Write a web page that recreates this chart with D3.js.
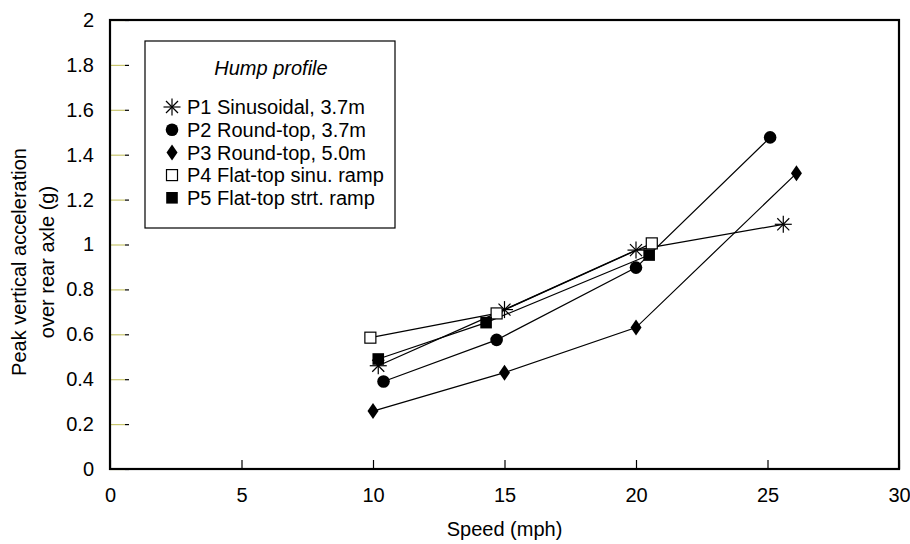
<!DOCTYPE html>
<html lang="en">
<head>
<meta charset="UTF-8">
<title>Peak vertical acceleration vs speed</title>
<script src="https://d3js.org/d3.v7.min.js"></script>
<style>
  body { margin: 0; background: #fff; font-family: "Liberation Sans", Arial, sans-serif; }
  .tick text { font-size: 20px; fill: #000; }
  .legend text { font-size: 20px; }
</style>
</head>
<body>
<svg width="910" height="544"></svg>
<script>
// speed (mph) / peak vertical acceleration (g)
const p1Speed = [10.2, 15.0, 20.0, 25.6];
const p1Accel = [0.46, 0.71, 0.975, 1.09];
const p2Speed = [10.4, 14.7, 20.0, 25.1];
const p2Accel = [0.39, 0.575, 0.897, 1.477];
const p3Speed = [10.0, 15.0, 20.0, 26.1];
const p3Accel = [0.258, 0.429, 0.63, 1.317];
const p4Speed = [9.9, 14.7, 20.6];
const p4Accel = [0.585, 0.693, 1.005];
const p5Speed = [10.2, 14.3, 20.5];
const p5Accel = [0.49, 0.652, 0.953];

const seriesNames = ["P1 Sinusoidal, 3.7m", "P2 Round-top, 3.7m", "P3 Round-top, 5.0m",
                     "P4 Flat-top sinu. ramp", "P5 Flat-top strt. ramp"];
const xTicks = [0, 5, 10, 15, 20, 25, 30];
const yTicks = [0, 0.2, 0.4, 0.6, 0.8, 1, 1.2, 1.4, 1.6, 1.8, 2];

const series = [
  { name: seriesNames[0], shape: "star", xs: p1Speed, ys: p1Accel },
  { name: seriesNames[1], shape: "circle", xs: p2Speed, ys: p2Accel },
  { name: seriesNames[2], shape: "diamond", xs: p3Speed, ys: p3Accel },
  { name: seriesNames[3], shape: "openSquare", xs: p4Speed, ys: p4Accel },
  { name: seriesNames[4], shape: "square", xs: p5Speed, ys: p5Accel }
];

const margin = { top: 20, left: 110 };
const w = 789, h = 449;

const svg = d3.select("svg");
const g = svg.append("g").attr("transform", `translate(${margin.left},${margin.top})`);

const x = d3.scaleLinear().domain([0, 30]).range([0, w]);
const y = d3.scaleLinear().domain([0, 2]).range([h, 0]);

// x axis, ticks pointing up into the plot
const xAxis = g.append("g")
  .attr("transform", `translate(0,${h})`)
  .call(d3.axisTop(x).tickValues(xTicks).tickSize(9).tickFormat(d3.format("d")));
xAxis.select(".domain").remove();
xAxis.selectAll("line").attr("stroke", "#000").attr("stroke-width", 1.2);
xAxis.selectAll("text").attr("y", 19).attr("dy", "0.71em");

// y axis, ticks pointing right
const yAxis = g.append("g")
  .call(d3.axisRight(y).tickValues(yTicks).tickSize(15).tickFormat(d => d3.format("")(+d.toFixed(1))));
yAxis.select(".domain").remove();
yAxis.selectAll("line").attr("stroke", "#c9c66e").attr("stroke-width", 1.2);
yAxis.selectAll(".tick").append("line")
  .attr("x1", 15).attr("x2", 19).attr("stroke", "#000").attr("stroke-width", 1.2);
yAxis.selectAll("text").attr("x", -16).attr("text-anchor", "end");

// frame
g.append("rect")
  .attr("width", w).attr("height", h)
  .attr("fill", "none").attr("stroke", "#000").attr("stroke-width", 2.2);

// marker drawing
function drawMarker(sel, shape) {
  if (shape === "star") {
    const r = 8.5;
    [0, 45, 90, 135].forEach(a => {
      const rad = a * Math.PI / 180;
      sel.append("line")
        .attr("x1", -r * Math.cos(rad)).attr("y1", -r * Math.sin(rad))
        .attr("x2", r * Math.cos(rad)).attr("y2", r * Math.sin(rad))
        .attr("stroke", "#000").attr("stroke-width", 1.2);
    });
  } else if (shape === "circle") {
    sel.append("circle").attr("r", 6.3).attr("fill", "#000");
  } else if (shape === "diamond") {
    sel.append("path").attr("d", "M0,-8L5.5,0L0,8L-5.5,0Z").attr("fill", "#000");
  } else if (shape === "openSquare") {
    sel.append("rect").attr("x", -5.5).attr("y", -5.5).attr("width", 11).attr("height", 11)
      .attr("fill", "#fff").attr("stroke", "#000").attr("stroke-width", 1.2);
  } else {
    sel.append("rect").attr("x", -5.8).attr("y", -5.8).attr("width", 11.6).attr("height", 11.6)
      .attr("fill", "#000");
  }
}

const line = d3.line().x(d => x(d[0])).y(d => y(d[1]));

series.forEach(s => {
  const pts = s.xs.map((v, i) => [v, s.ys[i]]);
  g.append("path").datum(pts)
    .attr("d", line).attr("fill", "none").attr("stroke", "#000").attr("stroke-width", 1.2);
});
series.forEach(s => {
  const pts = s.xs.map((v, i) => [v, s.ys[i]]);
  pts.forEach(p => {
    const m = g.append("g").attr("transform", `translate(${x(p[0])},${y(p[1])})`);
    drawMarker(m, s.shape);
  });
});

// legend
const lg = svg.append("g").attr("class", "legend").attr("transform", "translate(145,41)");
lg.append("rect").attr("width", 250).attr("height", 187)
  .attr("fill", "#fff").attr("stroke", "#000").attr("stroke-width", 1.2);
lg.append("text").attr("x", 126).attr("y", 34).attr("text-anchor", "middle")
  .attr("font-style", "italic").text("Hump profile");
series.forEach((s, i) => {
  const row = lg.append("g").attr("transform", `translate(0,${66 + i * 22.7})`);
  const m = row.append("g").attr("transform", "translate(27,0)");
  drawMarker(m, s.shape);
  row.append("text").attr("x", 42).attr("dy", "0.36em").text(s.name);
});

// axis titles
svg.append("text").attr("x", margin.left + x(15)).attr("y", 536)
  .attr("text-anchor", "middle").attr("font-size", 20).text("Speed (mph)");
const yl = svg.append("text").attr("transform", "translate(0,262) rotate(-90)")
  .attr("text-anchor", "middle").attr("font-size", 20);
yl.append("tspan").attr("x", 0).attr("y", 26).text("Peak vertical acceleration");
yl.append("tspan").attr("x", 0).attr("y", 54).text("over rear axle (g)");
</script>
</body>
</html>
